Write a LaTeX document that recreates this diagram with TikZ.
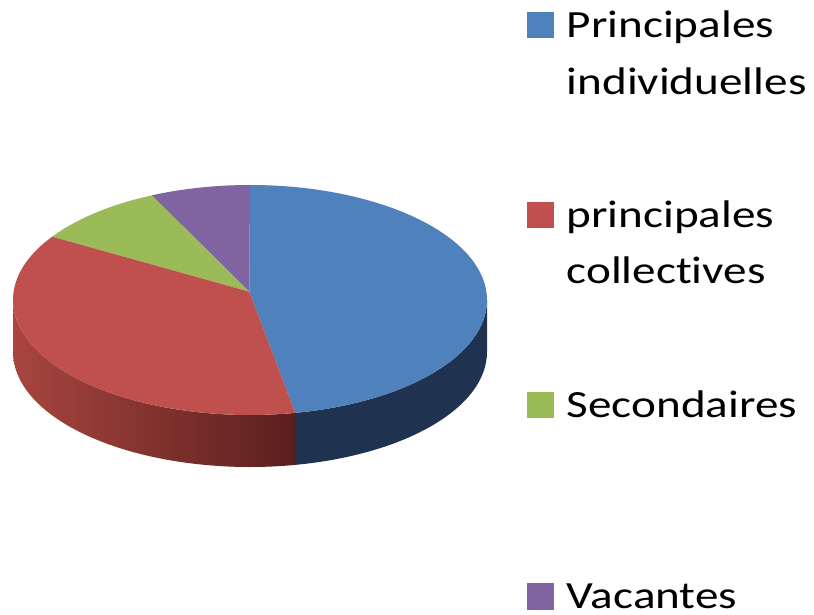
\documentclass[tikz,border=0pt]{standalone}
\usepackage{fontspec}
\setmainfont{Carlito}[Ligatures=CommonOff]
\usepackage{graphicx}
\definecolor{cblue}{HTML}{4F81BD}
\definecolor{cred}{HTML}{C0504D}
\definecolor{cgreen}{HTML}{9BBB59}
\definecolor{cpurple}{HTML}{8064A2}
\definecolor{bluesideC}{HTML}{1F3350}
\definecolor{redsideL}{HTML}{A8453F}
\definecolor{redsideR}{HTML}{5A1F1D}
\begin{document}
\begin{tikzpicture}[x=1pt,y=1pt,
  rad/.style={x radius=237pt, y radius=115pt},
  keybox/.style={minimum size=26.7pt, inner sep=0pt, draw=none},
  legtext/.style={anchor=base west, inner sep=0pt, font=\fontsize{38.5}{46}\selectfont}]
\useasboundingbox (0,0) rectangle (814,614);
\fill[white] (0,0) rectangle (814,614);
\coordinate (C) at (250,314);
\coordinate (V) at (249.3,322.3);
% sides
\shade[left color=redsideL, right color=redsideR]
  ([shift={(C)}]180:237pt and 115pt) arc[rad, start angle=180, end angle=281]
  -- ++(0,-52) arc[rad, start angle=281, end angle=180] -- cycle;
\fill[bluesideC]
  ([shift={(C)}]281:237pt and 115pt) arc[rad, start angle=281, end angle=360]
  -- ++(0,-52) arc[rad, start angle=360, end angle=281] -- cycle;
% top faces
\fill[cblue] (V) -- ([shift={(C)}]-79:237pt and 115pt) arc[rad, start angle=-79, end angle=90] -- cycle;
\fill[cpurple] (V) -- ([shift={(C)}]90:237pt and 115pt) arc[rad, start angle=90, end angle=114.5] -- cycle;
\fill[cgreen] (V) -- ([shift={(C)}]114.5:237pt and 115pt) arc[rad, start angle=114.5, end angle=146.6] -- cycle;
\fill[cred] (V) -- ([shift={(C)}]146.6:237pt and 115pt) arc[rad, start angle=146.6, end angle=281] -- cycle;
% legend
\node[keybox, fill=cblue] (k1) at (540.7,589) {};
\node[keybox, fill=cred] (k2) at (540.7,399) {};
\node[keybox, fill=cgreen] (k3) at (540.7,209) {};
\node[keybox, fill=cpurple] (k4) at (540.7,17.7) {};
\node[legtext] (t1a) at (566.5,576.3) {\scalebox{1.225}[1]{Principales}};
\node[legtext] (t1b) at (566.5,519.7) {\scalebox{1.225}[1]{individuelles}};
\node[legtext] (t2a) at (566.5,386.3) {\scalebox{1.225}[1]{principales}};
\node[legtext] (t2b) at (566.5,330.7) {\scalebox{1.225}[1]{collectives}};
\node[legtext] (t3) at (566.5,196.3) {\scalebox{1.225}[1]{Secondaires}};
\node[legtext] (t4) at (566.5,5.2) {\scalebox{1.225}[1]{Vacantes}};
\end{tikzpicture}
\end{document}
